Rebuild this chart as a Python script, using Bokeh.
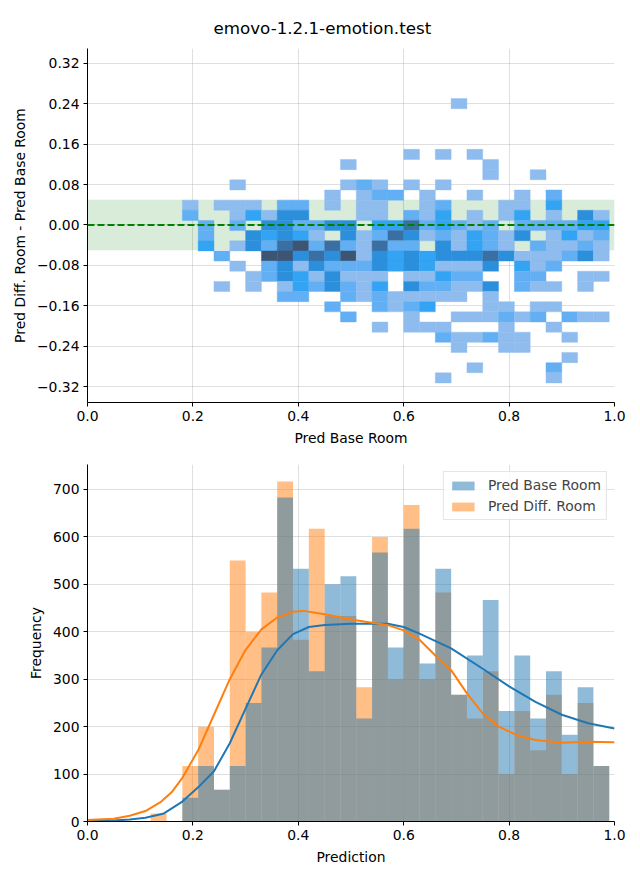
from bokeh.plotting import figure
from bokeh.layouts import column
from bokeh.models import (Range1d, FixedTicker, BoxAnnotation, Span, Title,
                          Legend, LegendItem)
from bokeh.embed import file_html
from bokeh.resources import INLINE

TITLE = "emovo-1.2.1-emotion.test"

# ---------------- top: 2D histogram (Pred Base Room vs difference) ----------
HM_X_START = 0.18      # left edge of first x bin
HM_X_WIDTH = 0.03      # x bin width
HM_Y_TOP = 0.2502      # top edge of first (top) y bin
HM_Y_HEIGHT = 0.0201   # y bin height
# one string per y bin (top to bottom), one char per x bin; '.' = empty,
# digits = count level (1 lowest .. 6 highest); spaces only for readability
HM_ROWS = [
    "......... ........1 .........",
    "......... ......... .........",
    "......... ......... .........",
    "......... ......... .........",
    "......... ......... .........",
    "......... .....1.1. 1........",
    "......... .1....... .1.......",
    "......... ......... .1..1....",
    "...1..... .121.1.1. .........",
    "......... 1.122.1.. 1..1.2...",
    "1.111.22. 1.11..12. ..11.3...",
    "2..13144. ..11.213. 1.13.1.41",
    ".2.2.4422 44.335232 12.222233",
    ".2..43431 .41254121 3214.1312",
    ".3.142562 521522.41 321.21121",
    "..2..6645 461434344 454111241",
    "...1.2414 222434311 14.312...",
    "....12431 4111.1132 2..22..11",
    "..1.1.132 4213.4221 14.211.1.",
    "......22. .21211111 .1.......",
    "......... 2..2123.. .11.11...",
    "......... .2...1..1 11212.211",
    "......... ...1.111. ..1..1...",
    "......... .......21 1211..1..",
    "......... ........1 ..11.....",
    "......... ......... ......1..",
    "......... ......... 1....2...",
    "......... .......1. .....1...",
]
HM_LEVEL_COLORS = ["#8ebcee", "#62aff4", "#33a3f3", "#2b8fdc", "#3a6fa3", "#3d5574"]
TOP_X_TICKS = [0.0, 0.2, 0.4, 0.6, 0.8, 1.0]
TOP_X_LABELS = ["0.0", "0.2", "0.4", "0.6", "0.8", "1.0"]
TOP_Y_TICKS = [-0.32, -0.24, -0.16, -0.08, 0.0, 0.08, 0.16, 0.24, 0.32]
TOP_Y_LABELS = ["\u22120.32", "\u22120.24", "\u22120.16", "\u22120.08", "0.00",
                "0.08", "0.16", "0.24", "0.32"]
BAND_HALF = 0.05

# ---------------- bottom: histograms + KDE ----------------------------------
HIST_START = 0.12
HIST_WIDTH = 0.03
BASE_FREQ = [0, 0, 50, 117, 67, 117, 250, 367, 683, 533, 317, 500, 517, 217, 567,
             367, 617, 333, 533, 267, 350, 467, 233, 350, 217, 317, 183, 283, 117]
DIFF_FREQ = [17, 0, 117, 200, 67, 550, 400, 483, 717, 383, 617, 433, 433, 283, 600,
             300, 667, 300, 483, 267, 217, 317, 100, 233, 150, 267, 100, 250, 117]
KDE_BASE_X = [0.0, 0.05, 0.08, 0.11, 0.145, 0.18, 0.21, 0.24, 0.27, 0.30, 0.33, 0.36,
              0.39, 0.42, 0.45, 0.50, 0.57, 0.60, 0.63, 0.69, 0.75, 0.80, 0.85, 0.90,
              0.95, 1.0]
KDE_BASE_Y = [1, 2, 4, 8, 17, 42, 72, 106, 165, 238, 310, 361, 395, 410, 414, 417, 417,
              410, 396, 365, 322, 285, 252, 225, 207, 196]
KDE_DIFF_X = [0.0, 0.05, 0.08, 0.11, 0.14, 0.16, 0.18, 0.21, 0.24, 0.27, 0.30, 0.33,
              0.36, 0.39, 0.41, 0.45, 0.50, 0.54, 0.57, 0.60, 0.63, 0.66, 0.69, 0.72,
              0.75, 0.78, 0.815, 0.85, 0.90, 0.95, 1.0]
KDE_DIFF_Y = [3, 6, 12, 22, 42, 62, 92, 150, 225, 300, 362, 405, 430, 442, 444, 437,
              426, 419, 414, 403, 383, 350, 319, 270, 228, 200, 182, 172, 166, 168, 167]
BOT_Y_TICKS = [0, 100, 200, 300, 400, 500, 600, 700]
SERIES_NAMES = ["Pred Base Room", "Pred Diff. Room"]

FONT = "DejaVu Sans"
FS = "13.9px"
BLUE = "#1f77b4"
ORANGE = "#ff7f0e"


def style(p):
    p.outline_line_color = None
    p.grid.grid_line_color = "#b0b0b0"
    p.grid.grid_line_alpha = 0.5
    p.grid.grid_line_width = 0.8
    for ax in p.axis:
        ax.axis_line_color = "black"
        ax.axis_line_width = 1
        ax.major_tick_line_color = "black"
        ax.major_tick_out = 4
        ax.major_tick_in = 0
        ax.minor_tick_line_color = None
        ax.major_label_standoff = 4
        ax.major_label_text_font = FONT
        ax.major_label_text_font_size = FS
        ax.major_label_text_color = "black"
        ax.axis_label_text_font = FONT
        ax.axis_label_text_font_size = FS
        ax.axis_label_text_font_style = "normal"
        ax.axis_label_text_color = "black"
        ax.axis_label_standoff = 6


title = Title(text=TITLE, align="left", offset=126, vertical_align="top",
              standoff=18, text_font=FONT, text_font_size="16.7px",
              text_font_style="normal", text_color="black")

p1 = figure(width=640, height=448, output_backend="svg", toolbar_location=None,
            x_range=Range1d(0, 1), y_range=Range1d(-0.3513, 0.3493), title=title,
            min_border_left=87, min_border_right=26, min_border_top=48,
            min_border_bottom=42)
p1.add_layout(BoxAnnotation(bottom=-BAND_HALF, top=BAND_HALF, fill_color="green",
                            fill_alpha=0.15, line_color=None, level="underlay"))

left, right, top, bottom, fill = [], [], [], [], []
for r, row in enumerate(HM_ROWS):
    cells = row.replace(" ", "")
    for c, ch in enumerate(cells):
        if ch == ".":
            continue
        left.append(HM_X_START + c * HM_X_WIDTH)
        right.append(HM_X_START + (c + 1) * HM_X_WIDTH)
        top.append(HM_Y_TOP - r * HM_Y_HEIGHT)
        bottom.append(HM_Y_TOP - (r + 1) * HM_Y_HEIGHT)
        fill.append(HM_LEVEL_COLORS[int(ch) - 1])
p1.quad(left=left, right=right, top=top, bottom=bottom, fill_color=fill,
        line_color=fill, line_width=0.4)
p1.add_layout(Span(location=0, dimension="width", line_color="green",
                   line_width=2, line_dash="7 3"))

style(p1)
p1.xaxis.ticker = FixedTicker(ticks=TOP_X_TICKS)
p1.xaxis.major_label_overrides = dict(zip(TOP_X_TICKS, TOP_X_LABELS))
p1.yaxis.ticker = FixedTicker(ticks=TOP_Y_TICKS)
p1.yaxis.major_label_overrides = dict(zip(TOP_Y_TICKS, TOP_Y_LABELS))
p1.xgrid.ticker = FixedTicker(ticks=TOP_X_TICKS)
p1.ygrid.ticker = FixedTicker(ticks=TOP_Y_TICKS)
p1.xaxis.axis_label = "Pred Base Room"
p1.yaxis.axis_label = "Pred Diff. Room - Pred Base Room"

p2 = figure(width=640, height=424, output_backend="svg", toolbar_location=None,
            x_range=Range1d(0, 1), y_range=Range1d(0, 752.6),
            min_border_left=87, min_border_right=26, min_border_top=16,
            min_border_bottom=51)
n = len(BASE_FREQ)
hl = [HIST_START + i * HIST_WIDTH for i in range(n)]
hr = [HIST_START + (i + 1) * HIST_WIDTH for i in range(n)]
r_diff = p2.quad(left=hl, right=hr, bottom=0, top=DIFF_FREQ, fill_color=ORANGE,
                 fill_alpha=0.5, line_color=None)
r_base = p2.quad(left=hl, right=hr, bottom=0, top=BASE_FREQ, fill_color=BLUE,
                 fill_alpha=0.5, line_color=None)
p2.line(KDE_BASE_X, KDE_BASE_Y, line_color=BLUE, line_width=2)
p2.line(KDE_DIFF_X, KDE_DIFF_Y, line_color=ORANGE, line_width=2)

legend = Legend(items=[LegendItem(label=SERIES_NAMES[0], renderers=[r_base]),
                       LegendItem(label=SERIES_NAMES[1], renderers=[r_diff])],
                location="top_right", margin=7, padding=5, spacing=5,
                glyph_width=28, glyph_height=11, label_height=14,
                label_standoff=11, label_text_font=FONT, label_text_font_size=FS,
                border_line_color="#cccccc", border_line_width=1,
                background_fill_alpha=0.8)
p2.add_layout(legend)

style(p2)
p2.xaxis.ticker = FixedTicker(ticks=TOP_X_TICKS)
p2.xaxis.major_label_overrides = dict(zip(TOP_X_TICKS, TOP_X_LABELS))
p2.xgrid.ticker = FixedTicker(ticks=TOP_X_TICKS)
p2.yaxis.ticker = FixedTicker(ticks=BOT_Y_TICKS)
p2.ygrid.ticker = FixedTicker(ticks=BOT_Y_TICKS)
p2.xaxis.axis_label = "Prediction"
p2.yaxis.axis_label = "Frequency"

layout = column(p1, p2, spacing=0)
open("out.html", "w").write(file_html(layout, INLINE))
